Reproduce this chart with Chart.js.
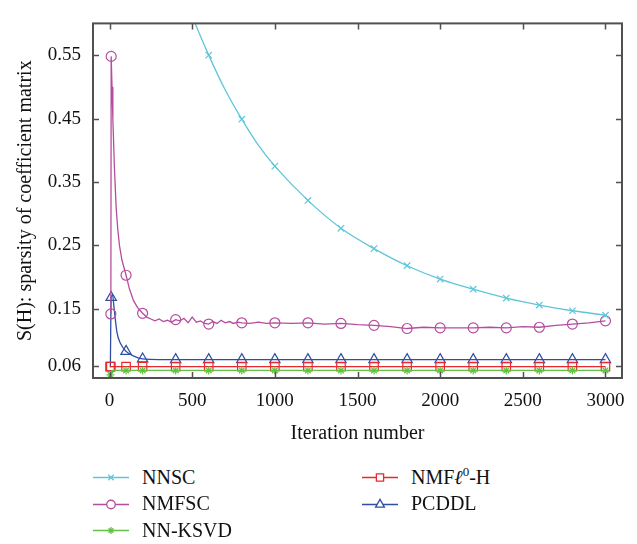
<!DOCTYPE html>
<html>
<head>
<meta charset="utf-8">
<script src="https://cdn.jsdelivr.net/npm/chart.js@4.4.1/dist/chart.umd.min.js"></script>
<style>
  html, body { margin: 0; padding: 0; background: #fff; }
  #wrap { position: relative; width: 637px; height: 544px; font-family: 'Liberation Serif', 'Times New Roman', serif; }
  #chart { position: absolute; left: 0; top: 0; }
  .item { position: absolute; height: 24px; display: flex; align-items: center; font-size: 20px; color: #111; white-space: nowrap; }
  .item canvas { margin-right: 13px; }
  .item sup { font-size: 13px; line-height: 0; vertical-align: 8px; }
</style>
</head>
<body>
<div id="wrap">
  <canvas id="chart" width="637" height="450"></canvas>
  <div id="legend"></div>
</div>
<script>
// Axis ticks
const xTicks = [0, 500, 1000, 1500, 2000, 2500, 3000];
const yTicks = [0.06, 0.15, 0.25, 0.35, 0.45, 0.55];

// Iterations carrying a marker on every curve
const markIters = [200, 400, 600, 800, 1000, 1200, 1400, 1600, 1800, 2000, 2200, 2400, 2600, 2800, 3000];

// [iteration, S(H)]
const nnsc = [
  [400, 0.685], [500, 0.612], [600, 0.55], [700, 0.495], [800, 0.449], [900, 0.408],
  [1000, 0.375], [1200, 0.321], [1400, 0.277], [1600, 0.245], [1800, 0.218], [2000, 0.197],
  [2200, 0.181], [2400, 0.167], [2600, 0.156], [2800, 0.147], [3000, 0.14],
];
const nmfsc = [
  [8, 0.142], [10, 0.548], [15, 0.50], [20, 0.45], [30, 0.37], [40, 0.31], [50, 0.275],
  [60, 0.25], [75, 0.227], [100, 0.203], [120, 0.182], [145, 0.163], [170, 0.152],
  [200, 0.143], [225, 0.137], [250, 0.134], [275, 0.131], [300, 0.134], [325, 0.130],
  [350, 0.132], [375, 0.129], [400, 0.133], [425, 0.131], [450, 0.135], [475, 0.128],
  [500, 0.137], [525, 0.129], [550, 0.131], [575, 0.127], [600, 0.126], [625, 0.130],
  [650, 0.127], [675, 0.132], [700, 0.128], [725, 0.130], [750, 0.127], [775, 0.129],
  [800, 0.128], [850, 0.127], [900, 0.129], [950, 0.127], [1000, 0.128], [1100, 0.127],
  [1200, 0.128], [1300, 0.126], [1400, 0.127], [1500, 0.125], [1600, 0.124], [1700, 0.122],
  [1800, 0.119], [1900, 0.121], [2000, 0.12], [2100, 0.12], [2200, 0.12], [2300, 0.121],
  [2400, 0.12], [2500, 0.122], [2600, 0.121], [2700, 0.124], [2800, 0.126], [2900, 0.128],
  [3000, 0.131],
];
const nnksvd = [
  [5, 0.046], [15, 0.053], [100, 0.053], [200, 0.053], [400, 0.053], [600, 0.053], [800, 0.053],
  [1000, 0.053], [1200, 0.053], [1400, 0.053], [1600, 0.053], [1800, 0.053], [2000, 0.053],
  [2200, 0.053], [2400, 0.053], [2600, 0.053], [2800, 0.053], [3000, 0.053],
];
const nmfl0h = [
  [3, 0.059], [8, 0.059], [100, 0.059], [200, 0.059], [400, 0.059], [600, 0.059], [800, 0.059],
  [1000, 0.059], [1200, 0.059], [1400, 0.059], [1600, 0.059], [1800, 0.059], [2000, 0.059],
  [2200, 0.059], [2400, 0.059], [2600, 0.059], [2800, 0.059], [3000, 0.059],
];
const pcddl = [
  [5, 0.058], [10, 0.168], [18, 0.172], [28, 0.15], [45, 0.113], [65, 0.096], [100, 0.083],
  [150, 0.075], [200, 0.071], [300, 0.07], [400, 0.07], [600, 0.07], [800, 0.07], [1000, 0.07],
  [1200, 0.07], [1400, 0.07], [1600, 0.07], [1800, 0.07], [2000, 0.07], [2200, 0.07],
  [2400, 0.07], [2600, 0.07], [2800, 0.07], [3000, 0.07],
];

// Early marker positions per curve
const nnscMarks = [];
const nmfscMarks = [8, 10, 100];
const nnksvdMarks = [5, 100];
const nmfl0hMarks = [3, 8, 100];
const pcddlMarks = [10, 100];

const series = [
  { name: 'NNSC',    html: 'NNSC',                      pts: nnsc,   marks: nnscMarks,   color: '#5fc6d9', style: 'crossRot', r: 4.5, smooth: true },
  { name: 'NMFSC',   html: 'NMFSC',                     pts: nmfsc,  marks: nmfscMarks,  color: '#b54d9e', style: 'circle',   r: 5,   smooth: false },
  { name: 'NN-KSVD', html: 'NN-KSVD',                   pts: nnksvd, marks: nnksvdMarks, color: '#64c043', style: 'star',     r: 4,   smooth: true },
  { name: 'NMFℓ0-H', html: 'NMF<i>ℓ</i><sup>0</sup>-H', pts: nmfl0h, marks: nmfl0hMarks, color: '#e8292d', style: 'rect',     r: 6,   smooth: true },
  { name: 'PCDDL',   html: 'PCDDL',                     pts: pcddl,  marks: pcddlMarks,  color: '#2f4ea4', style: 'triangle', r: 6,   smooth: true },
];

const FONT = "'Liberation Serif', 'Times New Roman', serif";

const framePlugin = {
  id: 'frame',
  afterDatasetsDraw(chart) {
    const { ctx, chartArea: a, scales: { x, y } } = chart;
    ctx.save();
    ctx.strokeStyle = '#505050';
    ctx.lineWidth = 1.5;
    ctx.beginPath();
    xTicks.forEach(v => {
      const px = Math.round(x.getPixelForValue(v)) + 0.5;
      ctx.moveTo(px, a.bottom); ctx.lineTo(px, a.bottom - 6);
      ctx.moveTo(px, a.top); ctx.lineTo(px, a.top + 6);
    });
    yTicks.forEach(v => {
      const py = Math.round(y.getPixelForValue(v)) + 0.5;
      ctx.moveTo(a.left, py); ctx.lineTo(a.left + 6, py);
      ctx.moveTo(a.right, py); ctx.lineTo(a.right - 6, py);
    });
    ctx.stroke();
    ctx.lineWidth = 2;
    ctx.strokeRect(a.left, a.top, a.right - a.left, a.bottom - a.top);
    ctx.restore();
  }
};

new Chart(document.getElementById('chart'), {
  type: 'line',
  data: {
    datasets: series.map(s => ({
      label: s.name,
      data: s.pts.map(([x, y]) => ({ x, y })),
      borderColor: s.color,
      backgroundColor: 'rgba(0,0,0,0)',
      borderWidth: 1.3,
      cubicInterpolationMode: s.smooth ? 'monotone' : 'default',
      tension: 0,
      pointStyle: s.style,
      pointBorderColor: s.color,
      pointBorderWidth: 1.2,
      pointRadius: c => (markIters.includes(c.raw.x) || s.marks.includes(c.raw.x)) ? s.r : 0,
      pointHoverRadius: 0,
    })),
  },
  options: {
    responsive: false,
    animation: false,
    events: [],
    layout: { padding: { left: 0, top: 8, right: 15, bottom: 0 } },
    plugins: { legend: { display: false }, tooltip: { enabled: false } },
    scales: {
      x: {
        type: 'linear',
        min: -100,
        max: 3100,
        afterBuildTicks: sc => { sc.ticks = xTicks.map(v => ({ value: v })); },
        afterFit: sc => { sc.height = 72; },
        grid: { display: false, drawTicks: false },
        border: { display: false },
        ticks: { padding: 12, color: '#111', font: { family: FONT, size: 19 }, callback: v => String(v), maxRotation: 0 },
        title: { display: true, text: 'Iteration number', color: '#111', font: { family: FONT, size: 20 }, padding: { top: 0, bottom: 4 } },
      },
      y: {
        min: 0.041,
        max: 0.60,
        afterBuildTicks: sc => { sc.ticks = yTicks.map(v => ({ value: v })); },
        afterFit: sc => { sc.width = 93; },
        grid: { display: false, drawTicks: false },
        border: { display: false },
        ticks: { padding: 12, color: '#111', font: { family: FONT, size: 19 }, callback: v => v.toFixed(2) },
        title: { display: true, text: 'S(H): sparsity of coefficient matrix', color: '#111', font: { family: FONT, size: 20 }, padding: { top: 14, bottom: 0 } },
      },
    },
  },
  plugins: [framePlugin],
});

// Legend: two columns below the plot
const legendCols = [93, 362];
const legendRows = [477, 503.5, 530];
const legendSlots = [[0, 0], [0, 1], [0, 2], [1, 0], [1, 1]];
const legend = document.getElementById('legend');
series.forEach((s, i) => {
  const [c, r] = legendSlots[i];
  const item = document.createElement('div');
  item.className = 'item';
  item.style.left = legendCols[c] + 'px';
  item.style.top = (legendRows[r] - 12) + 'px';
  const cv = document.createElement('canvas');
  cv.width = 36; cv.height = 24;
  const g = cv.getContext('2d');
  g.strokeStyle = s.color;
  g.lineWidth = 1.3;
  g.beginPath(); g.moveTo(0, 12.5); g.lineTo(36, 12.5); g.stroke();
  g.fillStyle = '#fff';
  Chart.helpers.drawPoint(g, { pointStyle: s.style, radius: s.r * 0.85, borderWidth: 1.2, rotation: 0 }, 18, 12.5);
  item.appendChild(cv);
  const label = document.createElement('span');
  label.innerHTML = s.html;
  item.appendChild(label);
  legend.appendChild(item);
});
</script>
</body>
</html>
